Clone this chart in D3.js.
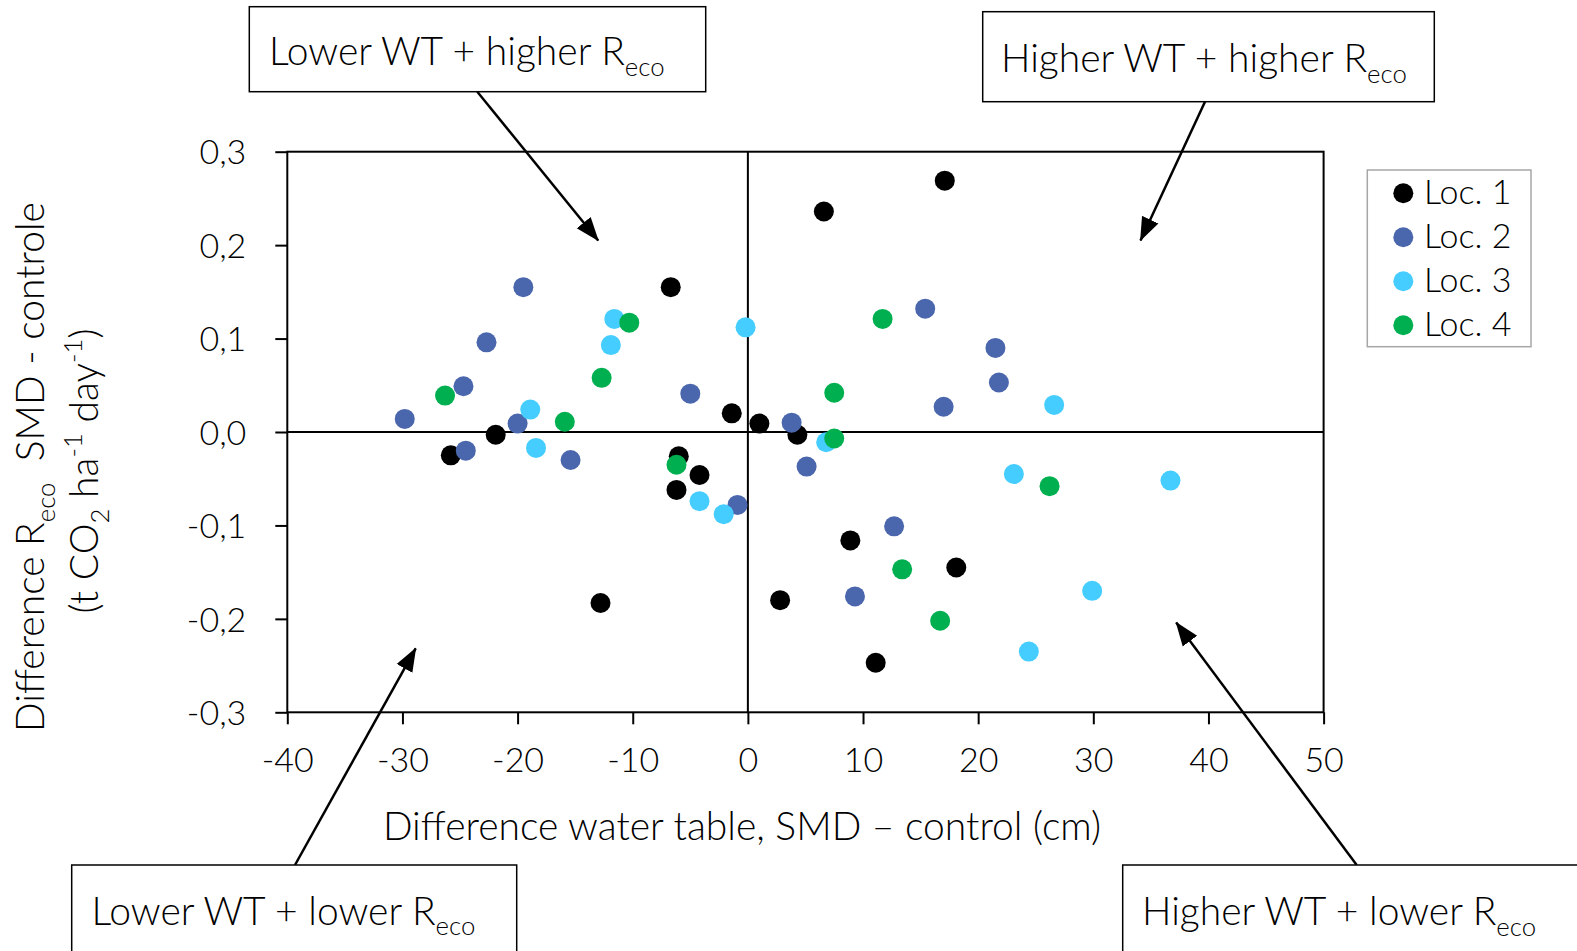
<!DOCTYPE html>
<html><head><meta charset="utf-8">
<script src="https://cdn.jsdelivr.net/npm/d3@7"></script>
<style>
html,body{margin:0;padding:0;background:#fff;}
svg{display:block;font-family:Lato,"Open Sans",sans-serif;font-weight:300;}
text{white-space:pre;}
</style></head><body>
<svg id="chart" width="1577" height="951"></svg>
<script>
// ---- data ----
const loc1X = [-6.7, 1.0, -1.4, 4.3, 17.1, 6.6, -21.9, -25.8, -6.0, -4.2, -6.2, -12.8, 8.9, 18.1, 2.8, 11.1];
const loc1Y = [0.155, 0.009, 0.020, -0.003, 0.269, 0.236, -0.003, -0.025, -0.026, -0.046, -0.062, -0.183, -0.116, -0.145, -0.180, -0.247];
const loc2X = [-19.5, -22.7, -24.7, -5.0, -29.8, -20.0, -24.5, -15.4, -0.9, 15.4, 21.5, 21.8, 17.0, 3.8, 5.1, 12.7, 9.3];
const loc2Y = [0.155, 0.096, 0.049, 0.041, 0.014, 0.009, -0.020, -0.030, -0.078, 0.132, 0.090, 0.053, 0.027, 0.010, -0.037, -0.101, -0.176];
const loc3X = [-11.6, -0.2, -11.9, -18.9, -18.4, -4.2, -2.1, 26.6, 6.8, 23.1, 36.7, 29.9, 24.4];
const loc3Y = [0.121, 0.112, 0.093, 0.024, -0.017, -0.074, -0.088, 0.029, -0.011, -0.045, -0.052, -0.170, -0.235];
const loc4X = [-10.3, -12.7, -26.3, -15.9, -6.2, 11.7, 7.5, 7.5, 26.2, 13.4, 16.7];
const loc4Y = [0.117, 0.058, 0.039, 0.011, -0.035, 0.121, 0.042, -0.007, -0.058, -0.147, -0.202];
const seriesNames = ["Loc. 1", "Loc. 2", "Loc. 3", "Loc. 4"];
const seriesColors = ["#000000", "#4A66AC", "#45CDFF", "#00B050"];
const xTicks = [-40, -30, -20, -10, 0, 10, 20, 30, 40, 50];
const yTicks = [-0.3, -0.2, -0.1, 0, 0.1, 0.2, 0.3];
const xLabel = "Difference water table, SMD \u2013 control (cm)";
// annotation texts and arrow tips (in data units)
const boxLabels = [
  [{t:"Lower WT + higher R"},{t:"eco",sub:true}],
  [{t:"Higher WT + higher R"},{t:"eco",sub:true}],
  [{t:"Lower WT + lower R"},{t:"eco",sub:true}],
  [{t:"Higher WT + lower R"},{t:"eco",sub:true}]
];
const arrowTipX = [-13.0, 34.1, -28.85, 37.2];
const arrowTipY = [0.205, 0.205, -0.2315, -0.204];

// ---- build table ----
const series = [
  {name: seriesNames[0], color: seriesColors[0], xs: loc1X, ys: loc1Y},
  {name: seriesNames[1], color: seriesColors[1], xs: loc2X, ys: loc2Y},
  {name: seriesNames[2], color: seriesColors[2], xs: loc3X, ys: loc3Y},
  {name: seriesNames[3], color: seriesColors[3], xs: loc4X, ys: loc4Y}
];

const svg = d3.select("#chart");
const L = 287.3, R = 1323.6, T = 151.7, B = 712.3;
const x = d3.scaleLinear().domain([-40, 50]).range([L, R]);
const y = d3.scaleLinear().domain([-0.3, 0.3]).range([B, T]);
const loc = d3.formatLocale({decimal: ",", thousands: ".", grouping: [3], currency: ["", ""], minus: "-"});
const fy = loc.format(".1f");
const fx = loc.format("d");

svg.append("rect").attr("width", 1577).attr("height", 951).attr("fill", "#fff");

function rich(sel, parts, size) {
  parts.forEach((p, i) => {
    const ts = sel.append("tspan").text(p.t);
    if (p.sub) { ts.attr("font-size", size * 0.66).attr("dy", size * 0.27); }
    else if (p.sup) { ts.attr("font-size", size * 0.66).attr("dy", -size * 0.4); }
    else {
      const prev = parts[i - 1];
      if (prev && prev.sub) ts.attr("dy", -size * 0.27);
      if (prev && prev.sup) ts.attr("dy", size * 0.4);
    }
  });
}

// axes
const tickFont = 34;
const gy = svg.append("g").attr("transform", `translate(${L},0)`)
  .call(d3.axisLeft(y).tickValues(yTicks).tickSize(12).tickSizeOuter(0).tickPadding(29).tickFormat(fy));
gy.select(".domain").remove();
gy.selectAll("line").attr("stroke", "#000").attr("stroke-width", 2);
gy.selectAll("text").attr("font-size", tickFont).attr("font-family", "Lato,'Open Sans',sans-serif").attr("fill", "#000").attr("dy", "0.36em");

const gx = svg.append("g").attr("transform", `translate(0,${B})`)
  .call(d3.axisBottom(x).tickValues(xTicks).tickSize(12).tickSizeOuter(0).tickFormat(fx));
gx.select(".domain").remove();
gx.selectAll("line").attr("stroke", "#000").attr("stroke-width", 2);
gx.selectAll("text").attr("font-size", tickFont).attr("font-family", "Lato,'Open Sans',sans-serif").attr("fill", "#000").attr("dy", null).attr("y", 60);

// frame and zero lines
svg.append("rect").attr("x", L).attr("y", T).attr("width", R - L).attr("height", B - T)
  .attr("fill", "none").attr("stroke", "#000").attr("stroke-width", 2);
svg.append("line").attr("x1", x(0)).attr("x2", x(0)).attr("y1", T).attr("y2", B).attr("stroke", "#000").attr("stroke-width", 2);
svg.append("line").attr("x1", L).attr("x2", R).attr("y1", y(0)).attr("y2", y(0)).attr("stroke", "#000").attr("stroke-width", 2);

// points
series.forEach(s => {
  svg.append("g").selectAll("circle").data(s.xs.map((v, i) => [v, s.ys[i]])).join("circle")
    .attr("cx", d => x(d[0])).attr("cy", d => y(d[1])).attr("r", 10).attr("fill", s.color);
});

// axis titles
const labFont = 39;
svg.append("text").attr("x", 742).attr("y", 840).attr("text-anchor", "middle")
  .attr("font-size", labFont).attr("fill", "#000").text(xLabel);
const yl1 = svg.append("text").attr("transform", "translate(44,467) rotate(-90)").attr("text-anchor", "middle")
  .attr("font-size", labFont).attr("fill", "#000");
rich(yl1, [{t:"Difference R"},{t:"eco",sub:true},{t:"  SMD - controle"}], labFont);
const yl2 = svg.append("text").attr("transform", "translate(98,471) rotate(-90)").attr("text-anchor", "middle")
  .attr("font-size", labFont).attr("fill", "#000");
rich(yl2, [{t:"(t CO"},{t:"2",sub:true},{t:" ha"},{t:"-1",sup:true},{t:" day"},{t:"-1",sup:true},{t:")"}], labFont);

// legend
const lg = svg.append("g");
lg.append("rect").attr("x", 1367.3).attr("y", 170).attr("width", 163.7).attr("height", 176.7)
  .attr("fill", "#fff").attr("stroke", "#A6A6A6").attr("stroke-width", 1.5);
series.forEach((s, i) => {
  lg.append("circle").attr("cx", 1403.3).attr("cy", 193.3 + i * 44).attr("r", 10).attr("fill", s.color);
  lg.append("text").attr("x", 1424).attr("y", 204 + i * 44).attr("font-size", 34).attr("fill", "#000").text(s.name);
});

// annotation boxes
const boxFont = 39;
const boxes = [
  {x: 249.3, y: 6.7, w: 456.4, h: 85, tx: 269, ty: 65, ax: 477.3, ay: 91.7},
  {x: 982.7, y: 11.7, w: 451.6, h: 90, tx: 1001, ty: 72, ax: 1205, ay: 101.7},
  {x: 71.7, y: 865, w: 445, h: 120, tx: 91.5, ty: 924.5, ax: 295, ay: 865},
  {x: 1122.7, y: 865, w: 500, h: 120, tx: 1142, ty: 925, ax: 1356.7, ay: 865}
];
const defs = svg.append("defs");
defs.append("marker").attr("id", "ah").attr("viewBox", "0 0 24 20").attr("refX", 23).attr("refY", 10)
  .attr("markerWidth", 24).attr("markerHeight", 20).attr("markerUnits", "userSpaceOnUse").attr("orient", "auto")
  .append("path").attr("d", "M0,1 L24,10 L0,19 Z").attr("fill", "#000");
boxes.forEach((b, i) => {
  svg.append("line").attr("x1", b.ax).attr("y1", b.ay).attr("x2", x(arrowTipX[i])).attr("y2", y(arrowTipY[i]))
    .attr("stroke", "#000").attr("stroke-width", 2.5).attr("marker-end", "url(#ah)");
  svg.append("rect").attr("x", b.x).attr("y", b.y).attr("width", b.w).attr("height", b.h)
    .attr("fill", "#fff").attr("stroke", "#000").attr("stroke-width", 1.5);
  const t = svg.append("text").attr("x", b.tx).attr("y", b.ty).attr("font-size", boxFont).attr("fill", "#000");
  rich(t, boxLabels[i], boxFont);
});
</script>
</body></html>
